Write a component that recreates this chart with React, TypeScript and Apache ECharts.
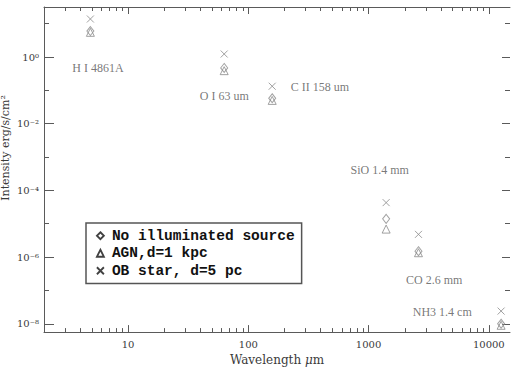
import React, { useEffect, useRef } from "react";
import * as echarts from "echarts";

// Data (wavelength in micrometres, intensity in erg/s/cm^2)
const lineNames = ["H I 4861A", "O I 63 um", "C II 158 um", "SiO 1.4 mm", "CO 2.6 mm", "NH3 1.4 cm"];
const wavelengths = [4.861, 63, 158, 1400, 2600, 12650];
const noSource = [6.0, 0.47, 0.058, 1.4e-5, 1.5e-6, 1.0e-8];
const agn = [5.5, 0.39, 0.05, 6.9e-6, 1.35e-6, 9.0e-9];
const obStar = [13.8, 1.23, 0.133, 4.3e-5, 4.8e-6, 2.4e-8];
const seriesNames = ["No illuminated source", "AGN,d=1 kpc", "OB star, d=5 pc"];
const xTickLabels = [10, 100, 1000, 10000];
const yLabelExponents = [-8, -6, -4, -2, 0];
const yMinorExponents = [-7, -5, -3, -1, 1];
// where each line name is written (log10 wavelength, log10 intensity)
const labelAt = [
  [0.75, -0.325],
  [1.8, -1.18],
  [2.596, -0.886],
  [3.092, -3.395],
  [3.546, -6.7],
  [3.6125, -7.646],
];

const X_MIN = 2;
const X_MAX = 15000;
const Y_MIN_EXP = -8.25;
const Y_MAX_EXP = 1.5;

const sup: Record<string, string> = {
  "-": "⁻", "0": "⁰", "1": "¹", "2": "²", "3": "³", "4": "⁴", "5": "⁵", "6": "⁶", "7": "⁷", "8": "⁸", "9": "⁹",
};
const powLabel = (e: number) => "10" + String(e).split("").map((c) => sup[c] || c).join("");

const lg = (v: number) => Math.log10(v);

const xMinor: number[] = [];
for (let n = 0; n <= 4; n++) {
  for (let k = 2; k <= 9; k++) {
    const v = k * Math.pow(10, n);
    if (v >= X_MIN && v <= X_MAX) xMinor.push(lg(v));
  }
}
const xMajor = xTickLabels.map(lg);

const AXIS_COLOR = "#5a5a5a";
const TEXT_COLOR = "#3a3a3a";
const MARK_COLOR = "#8a8a8a";
const SERIF = "DejaVu Serif";

const crossPath = "path://M0,0L10,10M10,0L0,10";

function xAxisDef(position: "bottom" | "top", values: number[], len: number, labels: boolean, line: boolean) {
  return {
    type: "value",
    gridIndex: 0,
    position,
    min: lg(X_MIN),
    max: lg(X_MAX),
    axisLine: { show: line, onZero: false, lineStyle: { color: AXIS_COLOR, width: 1 } },
    axisTick: { show: true, inside: true, length: len, customValues: values, lineStyle: { color: AXIS_COLOR, width: 1 } },
    axisLabel: labels
      ? {
          show: true,
          customValues: xMajor,
          margin: 7,
          formatter: (v: number) => String(Math.round(Math.pow(10, v))),
          fontFamily: SERIF,
          fontSize: 10,
          color: TEXT_COLOR,
        }
      : { show: false },
    splitLine: { show: false },
    ...(labels
      ? {
          name: "Wavelength {i|μ}m",
          nameLocation: "middle",
          nameGap: 21,
          nameTextStyle: {
            fontFamily: SERIF,
            fontSize: 12,
            color: TEXT_COLOR,
            rich: { i: { fontStyle: "italic", fontFamily: SERIF, fontSize: 12, color: TEXT_COLOR } },
          },
        }
      : {}),
  };
}

function yAxisDef(position: "left" | "right", values: number[], len: number, labels: boolean, line: boolean) {
  return {
    type: "value",
    gridIndex: 0,
    position,
    min: Y_MIN_EXP,
    max: Y_MAX_EXP,
    axisLine: { show: line, onZero: false, lineStyle: { color: AXIS_COLOR, width: 1 } },
    axisTick: { show: true, inside: true, length: len, customValues: values, lineStyle: { color: AXIS_COLOR, width: 1 } },
    axisLabel: labels
      ? {
          show: true,
          customValues: yLabelExponents,
          margin: 5,
          formatter: (v: number) => powLabel(Math.round(v)),
          fontFamily: SERIF,
          fontSize: 10,
          color: TEXT_COLOR,
        }
      : { show: false },
    splitLine: { show: false },
  };
}

export default function App() {
  const ref = useRef<HTMLDivElement>(null);
  useEffect(() => {
    if (!ref.current) return;
    const chart = echarts.init(ref.current, null, { renderer: "svg" });
    const markStyle = { color: "rgba(0,0,0,0)", borderColor: MARK_COLOR, borderWidth: 1 };
    const legendIcon = { color: "rgba(0,0,0,0)", borderColor: "#111", borderWidth: 1.8 };
    chart.setOption({
      animation: false,
      backgroundColor: "#fff",
      grid: { left: 44, top: 7, width: 466, height: 330, containLabel: false },
      xAxis: [
        xAxisDef("bottom", xMajor, 7, true, true),
        xAxisDef("bottom", xMinor, 4, false, false),
        xAxisDef("top", xMajor, 7, false, true),
        xAxisDef("top", xMinor, 4, false, false),
      ],
      yAxis: [
        yAxisDef("left", yLabelExponents, 10, true, true),
        yAxisDef("left", yMinorExponents, 5, false, false),
        yAxisDef("right", yLabelExponents, 8, false, false),
        yAxisDef("right", yMinorExponents, 5, false, false),
      ],
      legend: {
        left: 86,
        top: 223,
        orient: "vertical",
        padding: [4, 7, 4, 10],
        itemGap: 0,
        itemWidth: 7,
        itemHeight: 7,
        borderColor: "#555",
        borderWidth: 1.5,
        selectedMode: false,
        textStyle: {
          fontFamily: "Liberation Mono",
          fontWeight: "bold",
          fontSize: 14.5,
          color: "#111",
          lineHeight: 17.5,
          padding: [0, 0, 0, 3],
        },
        data: [
          { name: seriesNames[0], icon: "diamond", itemStyle: legendIcon },
          { name: seriesNames[1], icon: "triangle", itemStyle: legendIcon },
          { name: seriesNames[2], icon: crossPath, itemStyle: legendIcon },
        ],
      },
      series: [
        {
          name: seriesNames[0],
          type: "scatter",
          symbol: "diamond",
          symbolSize: [7, 9],
          itemStyle: markStyle,
          data: wavelengths.map((w, i) => [lg(w), lg(noSource[i])]),
        },
        {
          name: seriesNames[1],
          type: "scatter",
          symbol: "triangle",
          symbolSize: [8, 8],
          itemStyle: markStyle,
          data: wavelengths.map((w, i) => [lg(w), lg(agn[i])]),
        },
        {
          name: seriesNames[2],
          type: "scatter",
          symbol: crossPath,
          symbolSize: [7, 7],
          itemStyle: markStyle,
          data: wavelengths.map((w, i) => [lg(w), lg(obStar[i])]),
        },
        {
          name: "lines",
          type: "scatter",
          symbolSize: 0,
          silent: true,
          label: {
            show: true,
            position: "inside",
            formatter: (p: any) => p.name,
            fontFamily: "Liberation Serif",
            fontSize: 12,
            color: "#555",
          },
          data: lineNames.map((n, i) => ({ name: n, value: labelAt[i] })),
        },
      ],
      graphic: [
        {
          type: "text",
          x: 5,
          y: 148,
          rotation: Math.PI / 2,
          style: {
            text: "Intensity erg/s/cm²",
            fontFamily: SERIF,
            fontSize: 11,
            fill: TEXT_COLOR,
            textAlign: "center",
            textVerticalAlign: "middle",
          },
        },
      ],
    });
    return () => chart.dispose();
  }, []);
  return (
    <div
      ref={ref}
      style={{ position: "absolute", left: 0, top: 0, width: 517, height: 371, background: "#fff" }}
    />
  );
}
